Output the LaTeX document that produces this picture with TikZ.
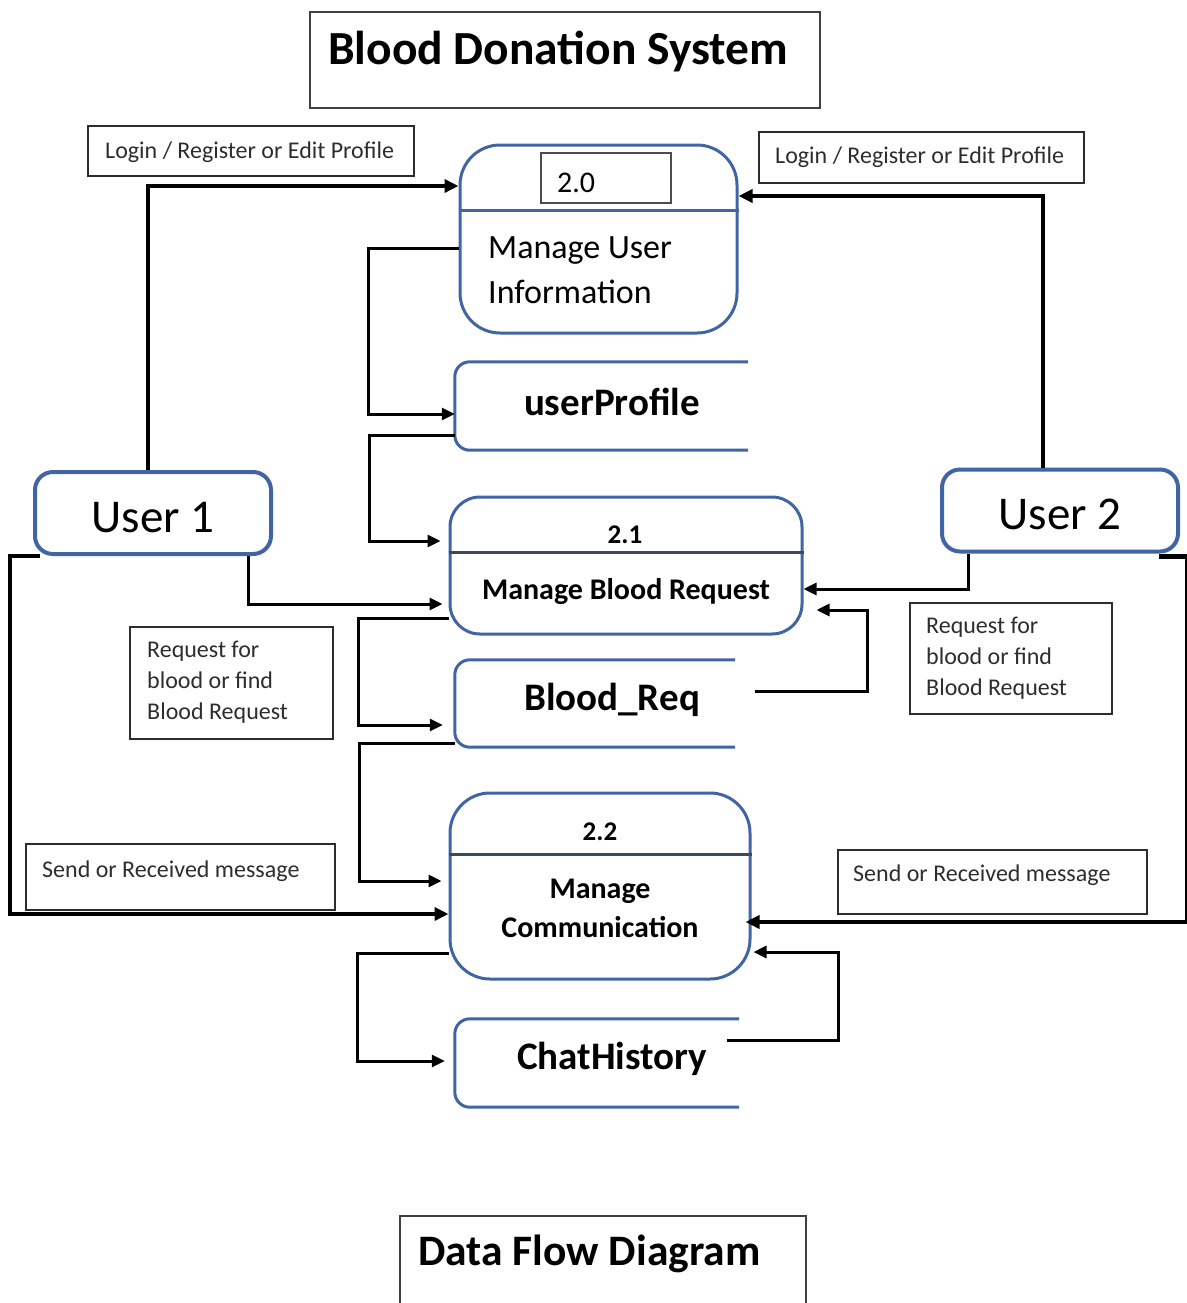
\documentclass[tikz,border=0pt]{standalone}
\usepackage{fontspec}
\setmainfont{Carlito}
\usetikzlibrary{arrows.meta,calc}
\definecolor{dfdblue}{RGB}{64,100,164}
\definecolor{sepgray}{RGB}{60,72,92}
\definecolor{lblgray}{RGB}{45,45,45}
\begin{document}
\begin{tikzpicture}[x=1pt,y=-1pt,
  proc/.style={draw=dfdblue,line width=3pt,fill=white,inner sep=0pt},
  user/.style={draw=dfdblue,line width=4pt,rounded corners=18pt,minimum width=236pt,minimum height=82pt,inner sep=0pt,text height=38pt,text depth=0pt,font=\fontsize{47}{52}\selectfont},
  store/.style={draw=dfdblue,line width=3pt,rounded corners=15pt},
  storebox/.style={inner sep=0pt},
  storetext/.style={inner sep=0pt,font=\fontsize{39}{44}\selectfont\bfseries},
  lblbox/.style={draw=lblgray,line width=1.5pt},
  lbltext/.style={inner sep=0pt,anchor=base west,text=lblgray,font=\fontsize{24}{31}\selectfont},
  ttlbox/.style={draw=black!75,line width=2pt},
  ttltext/.style={inner sep=0pt,anchor=base west,font=\bfseries},
  proctext/.style={inner sep=0pt,font=\fontsize{30}{39}\selectfont\bfseries,align=center},
  flow/.style={line width=3pt,-{Triangle[length=13pt,width=12pt]}},
  thickflow/.style={line width=4.5pt,-{Triangle[length=14pt,width=13pt]}}
]
\useasboundingbox (0,0) rectangle (1186,1303);

% titles
\draw[ttlbox] (310,12) rectangle (820,108);
\node[ttltext,font=\fontsize{47.5}{52}\selectfont\bfseries] (title) at (328,65) {Blood Donation System};
\draw[ttlbox] (400,1310) -- (400,1216) -- (806,1216) -- (806,1310);
\node[ttltext,font=\fontsize{43.5}{50}\selectfont\bfseries] (dfd) at (418,1265) {Data Flow Diagram};

% process 2.0
\node[proc,rounded corners=40pt,minimum width=277pt,minimum height=188pt] (p20) at (598.5,239) {};
\draw[draw=dfdblue,line width=3pt] (p20.west |- 0,210) -- (p20.east |- 0,210);
\draw[draw=black!70,line width=1.5pt] (541,153) rectangle (671,203);
\node[inner sep=0pt,anchor=base west,font=\fontsize{30}{36}\selectfont] (n20) at (557,192) {2.0};
\node[inner sep=0pt,anchor=base west,font=\fontsize{34}{45}\selectfont,align=left] (t20) at (488,303) {Manage User\\Information};

% process 2.1
\node[proc,rounded corners=30pt,minimum width=352pt,minimum height=137pt] (p21) at (626,565.5) {};
\draw[draw=sepgray,line width=3pt] (p21.west |- 0,552) -- (p21.east |- 0,552);
\node[proctext,anchor=base,font=\fontsize{27}{36}\selectfont\bfseries] (n21) at (625,543) {2.1};
\node[proctext,anchor=base] (t21) at (626,599) {Manage Blood Request};

% process 2.2
\node[proc,rounded corners=40pt,minimum width=300pt,minimum height=186pt] (p22) at (600,886) {};
\draw[draw=sepgray,line width=3pt] (p22.west |- 0,854) -- (p22.east |- 0,854);
\node[proctext,anchor=base,font=\fontsize{27}{36}\selectfont\bfseries] (n22) at (600,840) {2.2};
\node[proctext,anchor=base] (t22a) at (600,898) {Manage};
\node[proctext,anchor=base] (t22b) at (600,937) {Communication};

% data stores
\node[storebox,minimum width=293pt,minimum height=88pt] (ds1) at (601.5,406) {};
\draw[store] (ds1.north east) -- (ds1.north west) -- (ds1.south west) -- (ds1.south east);
\node[storetext] (ds1t) at (612,402) {userProfile};

\node[storebox,minimum width=280pt,minimum height=87pt] (ds2) at (595,703.5) {};
\draw[store] (ds2.north east) -- (ds2.north west) -- (ds2.south west) -- (ds2.south east);
\node[storetext] (ds2t) at (612,700) {Blood\_Req};

\node[storebox,minimum width=284pt,minimum height=88pt] (ds3) at (597,1063) {};
\draw[store] (ds3.north east) -- (ds3.north west) -- (ds3.south west) -- (ds3.south east);
\node[storetext] (ds3t) at (612,1059) {ChatHistory};

% users
\node[user] (u1) at (153,513) {User 1};
\node[user] (u2) at (1060,510.5) {User 2};

% labels
\draw[lblbox] (88,126) rectangle (414,176);
\node[lbltext] (l1) at (105,158) {Login / Register or Edit Profile};
\draw[lblbox] (759,132) rectangle (1084,183);
\node[lbltext] (l2) at (775,164) {Login / Register or Edit Profile};
\draw[lblbox] (130,627) rectangle (333,739);
\node[lbltext,align=left] (l3) at (147,719) {Request for\\blood or find\\Blood Request};
\draw[lblbox] (910,603) rectangle (1112,714);
\node[lbltext,align=left] (l4) at (926,695) {Request for\\blood or find\\Blood Request};
\draw[lblbox] (26,844) rectangle (335,910);
\node[lbltext] (l5) at (42,877) {Send or Received message};
\draw[lblbox] (838,850) rectangle (1147,914);
\node[lbltext] (l6) at (853,881) {Send or Received message};

% connectors
\draw[thickflow] ([xshift=-5pt]u1.north) |- ([yshift=53pt]p20.west);
\draw[flow] ([yshift=-9pt]p20.west) -- ++(-90,0) |- ([yshift=-8pt]ds1.west);
\draw[flow,shorten >=8pt] ([yshift=-29pt]ds1.west) -- ++(-85,0) |- ([yshift=24.5pt]p21.west);
\draw[flow,shorten >=6pt] ([xshift=95pt]u1.south) |- ([yshift=-38.5pt]p21.west);
\draw[flow,shorten >=12pt] ([yshift=-52.5pt]p21.west) -- ++(-90,0) |- ([yshift=-21.5pt]ds2.west);
\draw[flow,shorten >=7pt] ([yshift=-39.5pt]ds2.west) -- ++(-95,0) |- ([yshift=5pt]p22.west);
\draw[thickflow] ([xshift=7pt]u1.south west) -- ++(-30,0) |- ([yshift=-28pt]p22.west);
\draw[thickflow] ([xshift=-17pt]u2.north) |- ([yshift=43pt]p20.east);
\draw[flow] ([xshift=-92pt]u2.south) |- ([yshift=-23.5pt]p21.east);
\draw[flow] ([xshift=20pt,yshift=12.5pt]ds2.east) -- ++(112,0) |- ([xshift=13pt,yshift=-44.5pt]p21.east);
\draw[thickflow,shorten >=-6pt] ([xshift=-21pt,yshift=-3pt]u2.south east) -- ++(28,0) |- ([yshift=-36pt]p22.east);
\draw[flow,shorten >=10pt] ([yshift=-67pt]p22.west) -- ++(-91,0) |- ([yshift=2pt]ds3.west);
\draw[flow] ([xshift=-12pt,yshift=23pt]ds3.east) -- ++(111,0) |- ([xshift=2pt,yshift=-66pt]p22.east);
\end{tikzpicture}
\end{document}
